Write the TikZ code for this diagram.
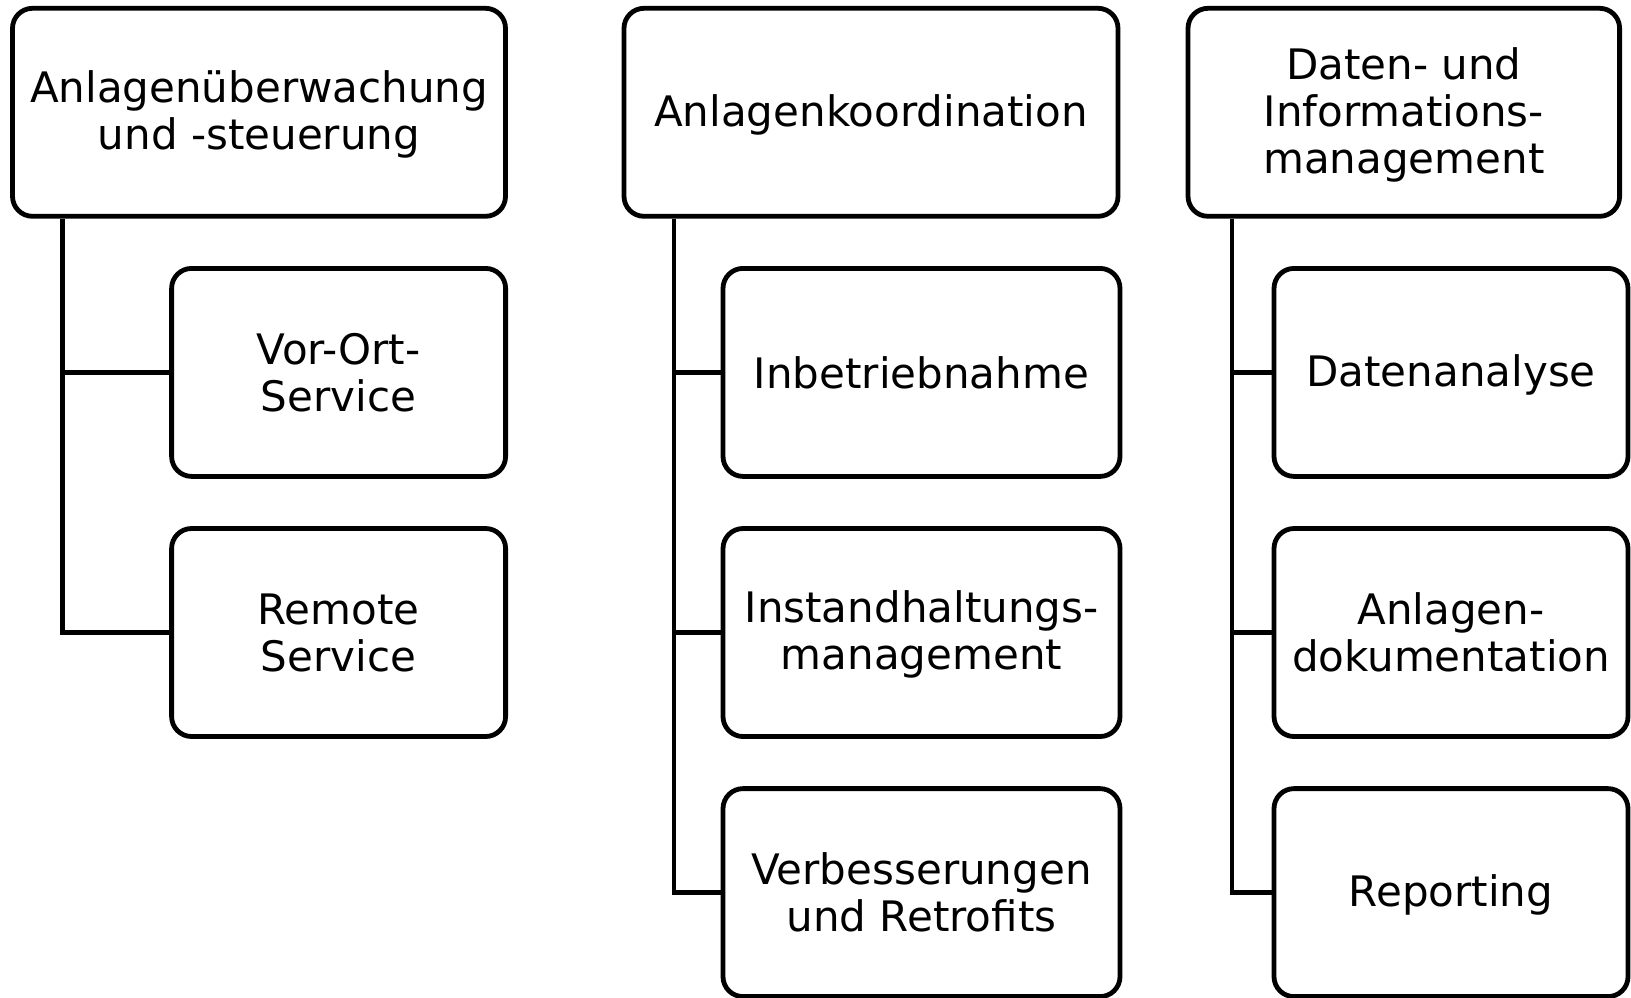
\documentclass[tikz,border=0pt]{standalone}
\usepackage{fontspec}
\setmainfont{DejaVu Sans}
\newcommand\dsc[1]{\raisebox{0pt}[\height][2pt]{#1}}
\begin{document}
\begin{tikzpicture}[x=0.5pt,y=-0.5pt,
  box/.style={draw, line width=2.4pt, rounded corners=10pt, align=center,
    font=\fontsize{21}{23.5}\selectfont, inner sep=0pt, minimum height=104pt},
  conn/.style={line width=2.4pt}]
\useasboundingbox (0,0) rectangle (1631,997);
% column 1
\node[box, minimum width=246.5pt] (a) at (259,112.3) {Anlagenüberwachung\\\dsc{und -steuerung}};
\node[box, minimum width=167pt] (a1) at (338.6,372.4) {Vor-Ort-\\Service};
\node[box, minimum width=167pt] (a2) at (338.6,632.5) {Remote\\Service};
\coordinate (ax) at (62.4,0);
\draw[conn] (a.south -| ax) |- (a2.west);
\draw[conn] (a1.west) -- (a1.west -| ax);
% column 2
\node[box, minimum width=247pt] (b) at (871,112.3) {\dsc{Anlagenkoordination}};
\node[box, minimum width=198.5pt] (b1) at (921.5,372.4) {Inbetriebnahme};
\node[box, minimum width=198.5pt] (b2) at (921.5,632.5) {Instandhaltungs-\\\dsc{management}};
\node[box, minimum width=198.5pt] (b3) at (921.5,892.6) {Verbesserungen\\und Retrofits};
\coordinate (bx) at (674,0);
\draw[conn] (b.south -| bx) |- (b3.west);
\draw[conn] (b1.west) -- (b1.west -| bx);
\draw[conn] (b2.west) -- (b2.west -| bx);
% column 3
\node[box, minimum width=215.8pt] (c) at (1403.8,112.3) {Daten- und\\Informations-\\\dsc{management}};
\node[box, minimum width=177pt] (c1) at (1451,372.4) {\dsc{Datenanalyse}};
\node[box, minimum width=177pt] (c2) at (1451,632.5) {Anlagen-\\dokumentation};
\node[box, minimum width=177pt] (c3) at (1451,892.6) {\dsc{Reporting}};
\coordinate (cx) at (1232,0);
\draw[conn] (c.south -| cx) |- (c3.west);
\draw[conn] (c1.west) -- (c1.west -| cx);
\draw[conn] (c2.west) -- (c2.west -| cx);
\end{tikzpicture}
\end{document}
